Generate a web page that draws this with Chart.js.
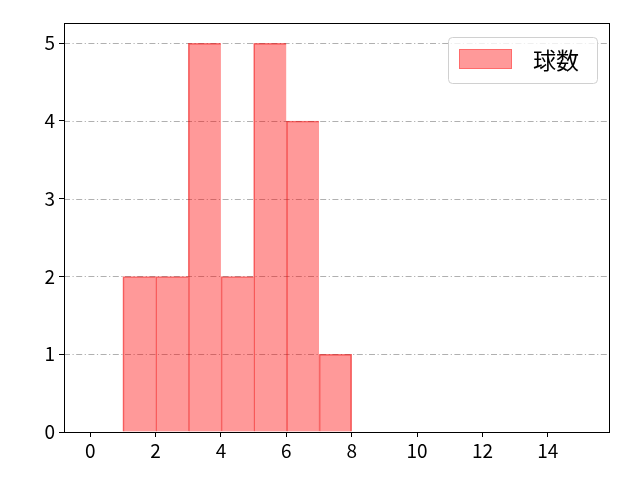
<!DOCTYPE html>
<html>
<head>
<meta charset="utf-8">
<script src="https://cdn.jsdelivr.net/npm/chart.js@4/dist/chart.umd.min.js"></script>
<style>
  html, body { margin: 0; padding: 0; background: #fff; }
  #wrap { width: 640px; height: 480px; }
</style>
</head>
<body>
<div id="wrap"><canvas id="histChart"></canvas></div>
<script>
// histogram bins (left edges) and counts
const binStarts = [1, 2, 3, 4, 5, 6, 7];
const counts = [2, 2, 5, 2, 5, 4, 1];
const seriesLabel = '球数';
const xTicks = [0, 2, 4, 6, 8, 10, 12, 14];
const yTicks = [0, 1, 2, 3, 4, 5];

const font = "'Noto Sans CJK JP', 'DejaVu Sans', sans-serif";
const fill = 'rgba(255, 0, 0, 0.4)';
const edge = 'rgba(235, 0, 0, 0.55)';

// dash-dot horizontal grid, drawn from the y scale
const gridPlugin = {
    id: 'dashGrid',
    beforeDatasetsDraw(chart) {
        const a = chart.chartArea;
        const ys = chart.scales.y;
        const c = chart.ctx;
        c.save();
        c.strokeStyle = '#b0b0b0';
        c.lineWidth = 1;
        c.setLineDash([6, 2.5, 1.2, 2.5]);
        yTicks.forEach(v => {
            if (v === 0) return;
            const py = Math.round(ys.getPixelForValue(v)) + 0.5;
            c.beginPath();
            c.moveTo(a.left, py);
            c.lineTo(a.right, py);
            c.stroke();
        });
        c.restore();
    }
};

// frame around the plot area, like matplotlib spines
const framePlugin = {
    id: 'frame',
    afterDatasetsDraw(chart) {
        const a = chart.chartArea;
        const c = chart.ctx;
        c.save();
        c.strokeStyle = '#000';
        c.lineWidth = 1;
        c.strokeRect(a.left + 0.5, a.top + 0.5, a.right - a.left, a.bottom - a.top);
        c.restore();
    }
};

// matplotlib style legend box in the upper right corner
const legendPlugin = {
    id: 'mplLegend',
    afterDraw(chart) {
        const a = chart.chartArea;
        const c = chart.ctx;
        const w = 149, h = 46;
        const x = a.right - 12 - w, y = a.top + 14;
        c.save();
        c.fillStyle = 'rgba(255,255,255,0.8)';
        c.strokeStyle = '#d0d0d0';
        c.lineWidth = 1;
        c.beginPath();
        c.roundRect(x + 0.5, y + 0.5, w, h, 4);
        c.fill();
        c.stroke();
        c.fillStyle = fill;
        c.fillRect(x + 11, y + 12, 53, 20);
        c.strokeStyle = 'rgba(255, 0, 0, 0.3)';
        c.strokeRect(x + 11.5, y + 12.5, 52, 19);
        c.fillStyle = '#000';
        c.font = '23px ' + font;
        c.textBaseline = 'middle';
        c.fillText(seriesLabel, x + 85, y + 23);
        c.restore();
    }
};

const ctx = document.getElementById('histChart').getContext('2d');
new Chart(ctx, {
    type: 'bar',
    data: {
        datasets: [{
            label: seriesLabel,
            data: binStarts.map((b, i) => ({ x: b + 0.5, y: counts[i] })),
            backgroundColor: fill,
            borderColor: edge,
            // one shared line between neighbouring bars
            borderWidth: c => ({
                left: 1,
                top: 1,
                bottom: 0,
                right: c.dataIndex === counts.length - 1 ? 1 : 0
            }),
            barPercentage: 1,
            categoryPercentage: 1
        }]
    },
    options: {
        responsive: true,
        maintainAspectRatio: false,
        animation: false,
        layout: {
            padding: { top: 23, right: 31, left: 0, bottom: 0 }
        },
        scales: {
            x: {
                type: 'linear',
                offset: false,
                min: -0.8,
                max: 15.87,
                afterBuildTicks: axis => { axis.ticks = xTicks.map(v => ({ value: v })); },
                afterFit: axis => { axis.height = 48; },
                grid: {
                    offset: false,
                    drawOnChartArea: false,
                    tickLength: 5,
                    tickColor: '#000'
                },
                border: { display: false },
                ticks: {
                    color: '#000',
                    font: { family: font, size: 19 },
                    padding: 2,
                    maxRotation: 0
                }
            },
            y: {
                min: 0,
                max: 5.26,
                afterBuildTicks: axis => { axis.ticks = yTicks.map(v => ({ value: v })); },
                afterFit: axis => { axis.width = 64; },
                grid: {
                    drawOnChartArea: false,
                    tickLength: 5,
                    tickColor: '#000'
                },
                border: { display: false },
                ticks: {
                    color: '#000',
                    font: { family: font, size: 19 },
                    padding: 4
                }
            }
        },
        plugins: {
            legend: { display: false },
            tooltip: { enabled: false }
        }
    },
    plugins: [gridPlugin, framePlugin, legendPlugin]
});
</script>
</body>
</html>
